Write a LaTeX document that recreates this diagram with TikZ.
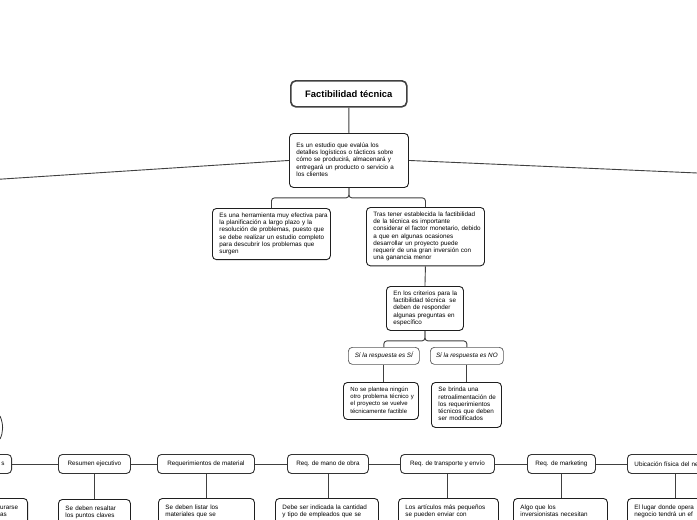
\documentclass[tikz,border=0pt]{standalone}
\usepackage{fontspec}
\setmainfont{Liberation Sans}
\newcommand\tl[1]{\begin{tabular}{@{}l@{}}#1\end{tabular}}
\begin{document}
\begin{tikzpicture}[x=1pt,y=-1pt,
  txt/.style={font=\fontsize{6.3}{7.2}\selectfont},
  titlebox/.style={draw=black!75, line width=1.6pt, rounded corners=5pt, fill=white,
    font=\bfseries\fontsize{9.4}{10}\selectfont, anchor=north west, inner sep=0pt,
    minimum width=116pt, minimum height=26pt},
  box/.style={txt, draw=black!88, line width=0.9pt, rounded corners=4pt, fill=white,
    align=left, anchor=north west, inner xsep=7pt, inner ysep=4pt},
  pill/.style={txt, draw=black!80, line width=0.9pt, rounded corners=4pt, fill=white,
    anchor=north west, inner xsep=0pt, inner ysep=0pt, minimum height=19pt},
  spill/.style={pill, draw=black!65, line width=0.7pt, minimum height=17pt, font=\itshape\fontsize{6.3}{7.2}\selectfont},
  plain/.style={txt, anchor=north west, inner sep=0pt, align=left},
  conn/.style={draw=black!75, line width=0.9pt, rounded corners=3pt}]
\useasboundingbox (0,0) rectangle (697,520);
\clip (0,0) rectangle (697,520);
\fill[white] (0,0) rectangle (697,520);

% coordinates for free ends
\coordinate (Lend) at (-5,179.5);
\coordinate (Rend) at (702,173.2);

% upper tree
\node[titlebox] (title) at (290,80) {Factibilidad técnica};
\node[box, text width=105pt, minimum height=54pt] (main) at (289,133)
  {\tl{Es un estudio que evalúa los\\detalles logísticos o tácticos sobre\\cómo se producirá, almacenará y\\entregará un producto o servicio a\\los clientes}};
\node[box, text width=104pt, minimum height=50pt] (t1) at (212,208)
  {\tl{Es una herramienta muy efectiva para\\la planificación a largo plazo y la\\resolución de problemas, puesto que\\se debe realizar un estudio completo\\para descubrir los problemas que\\surgen}};
\node[box, text width=104pt, minimum height=58pt] (t2) at (366,207)
  {\tl{Tras tener establecida la factibilidad\\de la técnica es importante\\considerar el factor monetario, debido\\a que en algunas ocasiones\\desarrollar un proyecto puede\\requerir de una gran inversión con\\una ganancia menor}};
\node[box, text width=63pt, minimum height=44pt] (crit) at (386,286)
  {\tl{En los criterios para la\\factibilidad técnica\ \ se\\deben de responder\\algunas preguntas en\\específico}};
\node[spill, minimum width=71pt] (p1) at (348,347) {Sí la respuesta es SÍ};
\node[spill, minimum width=73pt] (p2) at (430,347) {Sí la respuesta es NO};
\node[box, text width=61pt, minimum height=37pt, font=\fontsize{6}{7.2}\selectfont] (c1) at (343,382)
  {\tl{No se plantea ningún\\otro problema técnico y\\el proyecto se vuelve\\técnicamente factible}};
\node[box, text width=56pt, minimum height=45pt] (c2) at (431,382)
  {\tl{Se brinda una\\retroalimentación de\\los requerimientos\\técnicos que deben\\ser modificados}};

% left curve fragment
\draw[black!80, line width=0.8pt] (0,416) .. controls (3.5,424) and (3.5,432) .. (0,439);

% bottom row of pills
\node[pill, anchor=north east, text width=46pt, align=right, inner xsep=7pt] (ps) at (12,454) {s};
\node[pill, minimum width=72pt] (pres) at (58,454) {Resumen ejecutivo};
\node[pill, minimum width=97pt] (pmat) at (157,454) {Requerimientos de material};
\node[pill, minimum width=81pt] (pman) at (287,454) {Req. de mano de obra};
\node[pill, minimum width=94pt] (ptra) at (400,454) {Req. de transporte y envío};
\node[pill, minimum width=68pt] (pmkt) at (527,454) {Req. de marketing};
\node[pill, text width=82pt, align=left, inner xsep=7pt] (pubi) at (627,454) {Ubicación física del ne};

% bottom boxes
\node[box, anchor=north east, minimum width=92pt, minimum height=30pt] (bl) at (28,498) {};
\node[plain] (blt) at (0,504) {\tl{urarse\\as}};
\node[box, text width=58pt, inner ysep=6pt] (bres) at (58,499) {\tl{Se deben resaltar\\los puntos claves}};
\node[box, text width=82pt, inner ysep=6pt] (bmat) at (158,498) {\tl{Se deben listar los\\materiales que se}};
\node[box, text width=89pt, inner ysep=6pt] (bman) at (275,498) {\tl{Debe ser indicada la cantidad\\y tipo de empleados que se}};
\node[box, text width=86pt, inner ysep=6pt] (btra) at (398,498) {\tl{Los artículos más pequeños\\se pueden enviar con}};
\node[box, text width=80pt, inner ysep=6pt] (bmkt) at (513,498) {\tl{Algo que los\\inversionistas necesitan}};
\node[box, text width=82pt, inner ysep=6pt] (bubi) at (627,498) {\tl{El lugar donde opera\\negocio tendrá un ef}};

% connectors
\draw[conn] (title.south) -- (main.north);
\draw[conn] (main.west) -- (Lend);
\draw[conn] (main.east) -- (Rend);
\draw[conn] (main.south) -- ++(0,10) -| (t1.north);
\draw[conn] (main.south) -- ++(0,10) -| (t2.north);
\draw[conn] (t2.south) -- (crit.north);
\draw[conn] (crit.south) -- ++(0,10) -| (p1.north);
\draw[conn] (crit.south) -- ++(0,10) -| (p2.north);
\draw[conn] (p1.south) -- (p1.south |- c1.north);
\draw[conn] (p2.south) -- (p2.south |- c2.north);

\draw[conn] (ps.east) -- (pres.west);
\draw[conn] (pres.east) -- (pmat.west);
\draw[conn] (pmat.east) -- (pman.west);
\draw[conn] (pman.east) -- (ptra.west);
\draw[conn] (ptra.east) -- (pmkt.west);
\draw[conn] (pmkt.east) -- (pubi.west);

\draw[conn] (pres.south) -- (pres.south |- bres.north);
\draw[conn] (pmat.south) -- (pmat.south |- bmat.north);
\draw[conn] (pman.south) -- (pman.south |- bman.north);
\draw[conn] (ptra.south) -- (ptra.south |- btra.north);
\draw[conn] (pmkt.south) -- (pmkt.south |- bmkt.north);
\draw[conn] (pubi.south) -- (pubi.south |- bubi.north);
\end{tikzpicture}
\end{document}
